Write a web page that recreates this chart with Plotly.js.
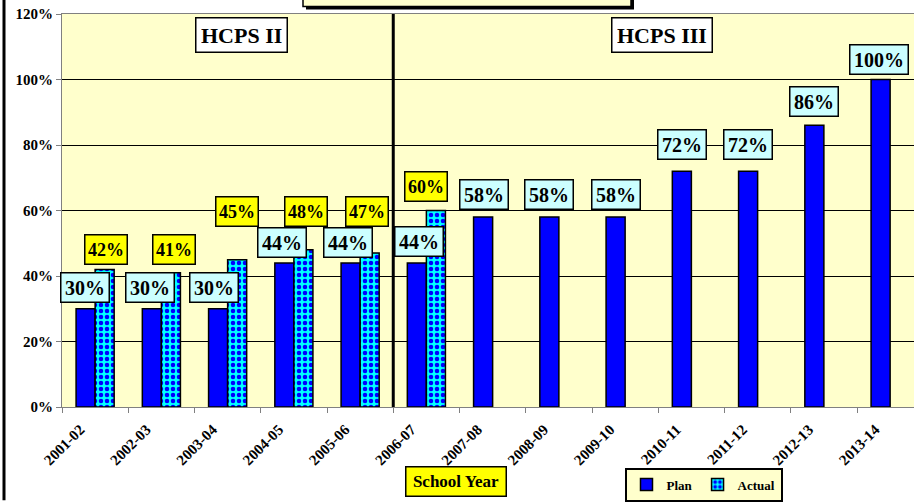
<!DOCTYPE html>
<html>
<head>
<meta charset="utf-8">
<script src="https://cdn.plot.ly/plotly-3.0.1.min.js"></script>
<style>html,body{margin:0;padding:0;overflow:hidden;background:#fff}</style>
</head>
<body>
<div id="chart" style="width:914px;height:502px"></div>
<script>
// ---- data ----
const categories = ['2001-02','2002-03','2003-04','2004-05','2005-06','2006-07','2007-08','2008-09','2009-10','2010-11','2011-12','2012-13','2013-14'];
const planValues = [30,30,30,44,44,44,58,58,58,72,72,86,100];
const actualValues = [42,41,45,48,47,60,null,null,null,null,null,null,null];
const yTicks = [0,20,40,60,80,100,120];
const phaseLabels = ['HCPS II','HCPS III'];
const xAxisTitle = 'School Year';

// ---- label placement (pixel nudges, styling only) ----
const planLabelDx = [-10,-11,-14,-11.5,-12,-7.5,-8.5,-9.5,-9.5,-9.5,-9.5,-9.5,-11];
const planLabelDy = [6,6,6,5,5,5.5,7.5,7.5,7.5,11,11,8,5];
const actualLabelDx = [11,13,9,12,7,0];
const actualLabelDy = [4,7.5,32.5,22.5,26,8.5];

const W = 914, H = 502, ML = 62, MR = 0, MT = 14, MB = 92;
const PW = W - ML - MR, PH = H - MT - MB;
const px = x => (x - ML) / PW;
const py = y => (H - MB - y) / PH;

const serif = 'Liberation Serif';

const traces = [
  {type:'bar', name:'Plan', x:categories, y:planValues,
   marker:{color:'#0000FF', line:{color:'#000000', width:1.5}}, hoverinfo:'skip'},
  {type:'bar', name:'Actual', x:categories, y:actualValues,
   marker:{color:'#00FFFF', line:{color:'#000000', width:1.5},
     pattern:{shape:'.', fgcolor:'#0000FF', bgcolor:'#00FFFF', size:6, solidity:0.45}}, hoverinfo:'skip'}
];

const annotations = [];
categories.forEach((c,i)=>{
  if (planValues[i] != null) annotations.push({x:c, y:planValues[i], xref:'x', yref:'y', text:planValues[i]+'%',
    showarrow:false, xanchor:'center', xshift:planLabelDx[i], yshift:planLabelDy[i], yanchor:'bottom', height:21,
    bgcolor:'#CCFFFF', bordercolor:'#000', borderwidth:1.5, borderpad:3.5,
    font:{family:serif, size:20, color:'#000', weight:'bold'}});
});
categories.forEach((c,i)=>{
  if (actualValues[i] != null) annotations.push({x:c, y:actualValues[i], xref:'x', yref:'y', text:actualValues[i]+'%',
    showarrow:false, xanchor:'center', xshift:actualLabelDx[i], yshift:actualLabelDy[i], yanchor:'bottom', height:23,
    bgcolor:'#FFFF00', bordercolor:'#000', borderwidth:1.5, borderpad:2.5,
    font:{family:serif, size:18, color:'#000', weight:'bold'}});
});
annotations.push({xref:'paper', yref:'paper', x:px(241.5), y:py(35), xanchor:'center', yanchor:'middle', text:phaseLabels[0], showarrow:false, height:24,
  bgcolor:'#FFFFFF', bordercolor:'#000', borderwidth:1.5, borderpad:4.5, font:{family:serif, size:22, color:'#000', weight:'bold'}});
annotations.push({xref:'paper', yref:'paper', x:px(662), y:py(35), xanchor:'center', yanchor:'middle', text:phaseLabels[1], showarrow:false, height:24,
  bgcolor:'#FFFFFF', bordercolor:'#000', borderwidth:1.5, borderpad:4.5, font:{family:serif, size:22, color:'#000', weight:'bold'}});
annotations.push({xref:'paper', yref:'paper', x:px(455.5), y:py(485.5), xanchor:'center', yanchor:'middle', text:xAxisTitle, showarrow:false,
  width:92, height:21,
  bgcolor:'#FFFF00', bordercolor:'#000', borderwidth:1.5, borderpad:3.5, font:{family:serif, size:17, color:'#000', weight:'bold'}});

const shapes = [
  {type:'line', xref:'x', yref:'y', x0:4.5, x1:4.5, y0:0, y1:120, line:{color:'#000', width:3}},
  {type:'line', xref:'paper', yref:'paper', x0:px(4), x1:px(4), y0:py(H+2), y1:py(-2), line:{color:'#000', width:3}},
  {type:'rect', xref:'paper', yref:'paper', x0:px(306), x1:px(634), y0:py(9.5), y1:py(-5), fillcolor:'#000', line:{width:0}},
  {type:'rect', xref:'paper', yref:'paper', x0:px(303), x1:px(631), y0:py(6.5), y1:py(-8), fillcolor:'#FFFFCC', line:{color:'#000', width:1.5}}
];

const layout = {
  width:W, height:H, margin:{l:ML, r:MR, t:MT, b:MB},
  paper_bgcolor:'#FFFFFF', plot_bgcolor:'#FFFFCC',
  barmode:'group', bargap:0.425, bargroupgap:0,
  showlegend:true,
  legend:{orientation:'h', x:px(703.5), y:py(471), xanchor:'center', yanchor:'top', bgcolor:'#FFFFCC', bordercolor:'#000', borderwidth:2,
    font:{family:serif, size:13, color:'#000', weight:'bold'}, itemwidth:30, traceorder:'normal'},
  xaxis:{type:'category', range:[-0.5, -0.5 + PW/66.25], showgrid:false, showline:true, linecolor:'#808080', linewidth:1,
    mirror:true, ticks:'outside', tickson:'boundaries', ticklen:5, tickcolor:'#808080',
    tickangle:-45, ticklabelshift:-15, ticklabelstandoff:7,
    tickfont:{family:serif, size:15, color:'#000', weight:'bold'}, fixedrange:true},
  yaxis:{range:[0,120], tickvals:yTicks, ticktext:yTicks.map(v=>v+'%'), showgrid:true, gridcolor:'#000', gridwidth:1,
    showline:true, linecolor:'#808080', linewidth:1, ticks:'outside', ticklen:5, tickcolor:'#808080', zeroline:false,
    tickfont:{family:serif, size:15, color:'#000', weight:'bold'}, fixedrange:true},
  annotations, shapes
};

Plotly.newPlot('chart', traces, layout, {staticPlot:true, displayModeBar:false});
</script>
</body>
</html>
